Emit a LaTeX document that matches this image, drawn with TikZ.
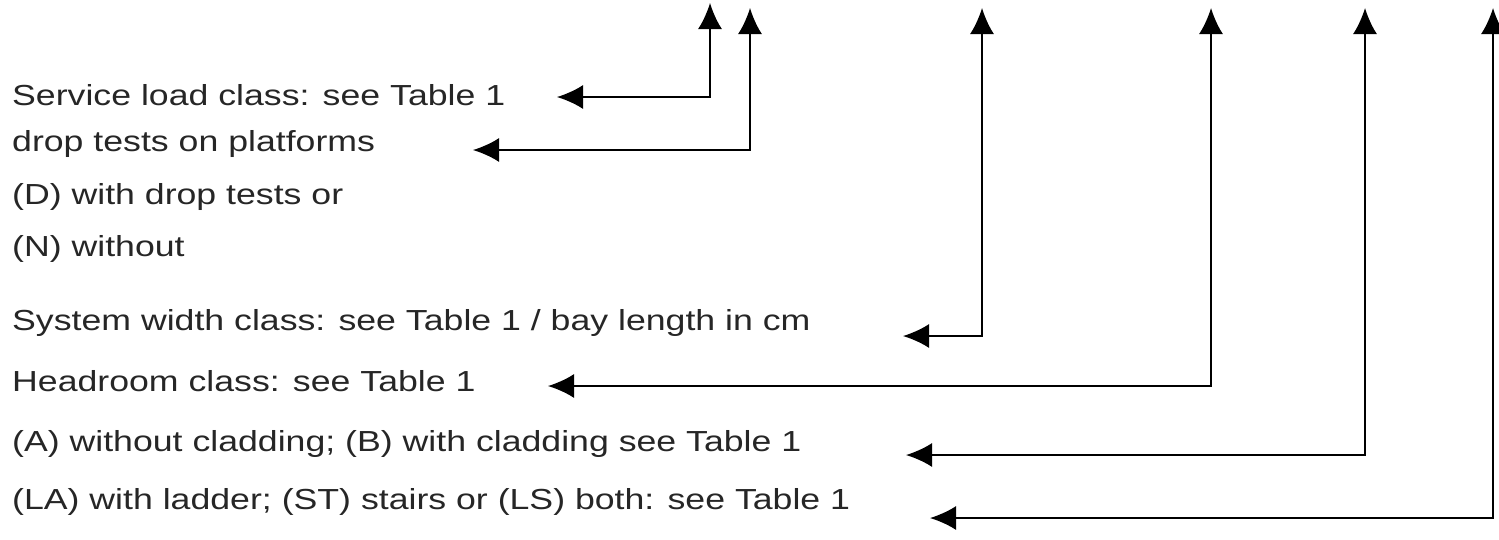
\documentclass[tikz,border=0pt]{standalone}
\usepackage{fontspec}
\setmainfont{Liberation Sans}[FakeStretch=1.23]
\usetikzlibrary{arrows.meta}

\tikzset{
    label/.style={anchor=west, inner sep=0pt, text=black!85,
        font=\fontsize{29}{34}\selectfont},
    pointer/.style={line width=2pt, {Latex[length=26pt, width=24pt]}-{Latex[length=26pt, width=24pt]}}
}

\begin{document}
\begin{tikzpicture}[x=1pt, y=-1pt]

    \useasboundingbox (0, 0) rectangle (1499, 539);

    %% Code letters

    % Text lines
    \node [label] (load)     at (12, 95)  {Service load class: see Table 1};
    \node [label] (drop)     at (12, 144) {drop tests on platforms};
    \node [label] (withD)    at (12, 197) {(D) with drop tests or};
    \node [label] (withoutN) at (12, 249) {(N) without};
    \node [label] (width)    at (12, 323) {System width class: see Table 1 / bay length in cm};
    \node [label] (head)     at (12, 381) {Headroom class: see Table 1};
    \node [label] (clad)     at (12, 444) {(A) without cladding; (B) with cladding see Table 1};
    \node [label] (ladder)   at (12, 502) {(LA) with ladder; (ST) stairs or (LS) both: see Table 1};

    % Arrow ends
    \coordinate (loadtip)   at (557, 97);
    \coordinate (droptip)   at (473, 150);
    \coordinate (widthtip)  at (903, 336);
    \coordinate (headtip)   at (548, 386);
    \coordinate (cladtip)   at (906, 455);
    \coordinate (laddertip) at (930, 518);

    % Tops
    \coordinate (loadtop)   at (710, 3);
    \coordinate (droptop)   at (750, 8);
    \coordinate (widthtop)  at (982, 8);
    \coordinate (headtop)   at (1211, 8);
    \coordinate (cladtop)   at (1365, 8);
    \coordinate (laddertop) at (1493, 8);

    % Pointers
    \draw [pointer] (loadtip)   -| (loadtop);
    \draw [pointer] (droptip)   -| (droptop);
    \draw [pointer] (widthtip)  -| (widthtop);
    \draw [pointer] (headtip)   -| (headtop);
    \draw [pointer] (cladtip)   -| (cladtop);
    \draw [pointer] (laddertip) -| (laddertop);

\end{tikzpicture}
\end{document}
